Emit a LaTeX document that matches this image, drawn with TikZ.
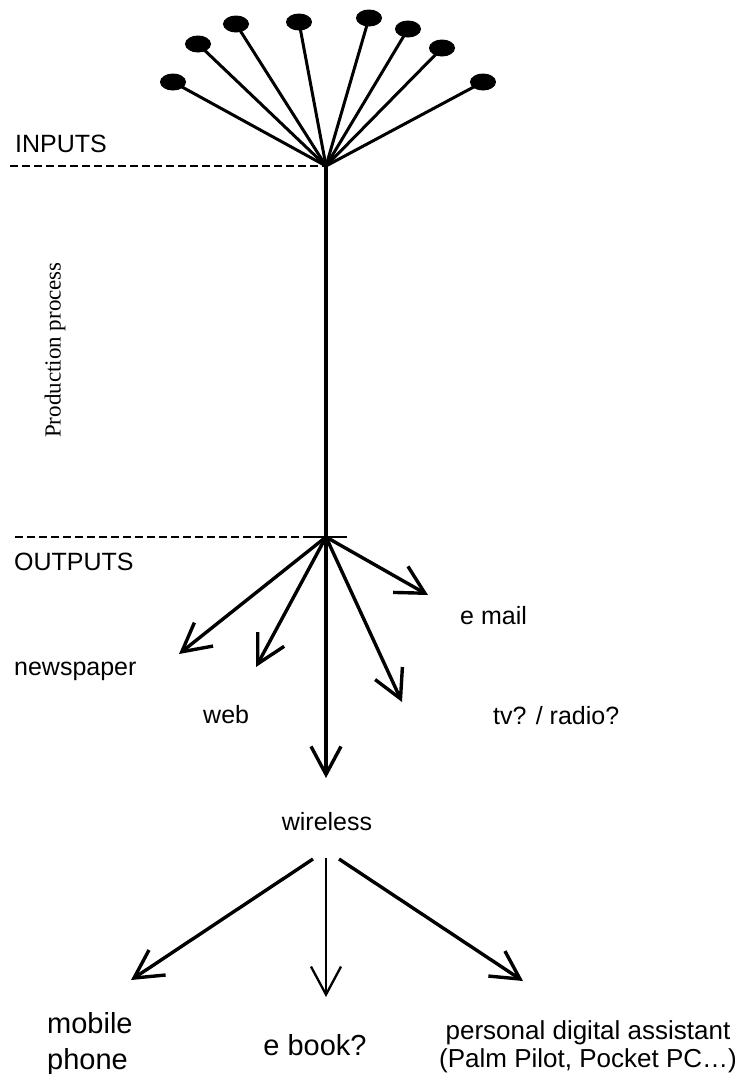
\documentclass[tikz,border=0pt]{standalone}
\usepackage{fontspec}
\setmainfont{Liberation Sans}
\newfontfamily\serifface{Liberation Serif}
\usetikzlibrary{arrows.meta,shapes.geometric}

\begin{document}
\begin{tikzpicture}[x=1pt,y=-1pt,
  dot/.style={ellipse, fill=black, minimum width=26pt, minimum height=17pt, inner sep=0pt},
  spoke/.style={line width=3pt},
  flow/.style={line width=3.4pt, -{Straight Barb[length=28pt,width=30pt]}},
  thinflow/.style={line width=2.3pt, -{Straight Barb[length=28pt,width=30pt]}},
  divider/.style={line width=2.3pt, dash pattern=on 8pt off 4pt},
  lab/.style={font=\fontsize{25}{30}\selectfont, inner sep=0pt},
  biglab/.style={font=\fontsize{29}{36}\selectfont, inner sep=0pt},
]
\useasboundingbox (0,0) rectangle (738,1074);

% input fan
\coordinate (hubin) at (326,166);
\node[dot] (d1) at (173,82) {};
\node[dot] (d2) at (198,44) {};
\node[dot] (d3) at (236,24) {};
\node[dot] (d4) at (299,22) {};
\node[dot] (d5) at (369,18) {};
\node[dot] (d6) at (408,29) {};
\node[dot] (d7) at (442,48) {};
\node[dot] (d8) at (483,82) {};
\foreach \d in {d1,d2,d3,d4,d5,d6,d7,d8}
  \draw[spoke] (\d.center) -- (hubin);

% dividers
\coordinate (inleft) at (10,166);
\draw[divider] (inleft) -- (hubin);
\coordinate (hubout) at (326,537);
\coordinate (outleft) at (15,537);
\coordinate (ticka) at (307,537);
\coordinate (tickb) at (347,537);
\draw[divider] (outleft) -- (ticka);
\draw[line width=2.8pt] (ticka) -- (tickb);

% production line
\coordinate (tipwireless) at (326,778);
\draw[flow] (hubin) -- (tipwireless);

% outputs
\coordinate (tipnews) at (179,654);
\coordinate (tipweb) at (256,667);
\coordinate (tiptv) at (402,702);
\coordinate (tipmail) at (428,595);
\draw[flow] (hubout) -- (tipnews);
\draw[flow] (hubout) -- (tipweb);
\draw[flow] (hubout) -- (tiptv);
\draw[flow] (hubout) -- (tipmail);

% wireless devices
\coordinate (wlleft) at (313,859);
\coordinate (wlmid) at (326,858);
\coordinate (wlright) at (339,859);
\coordinate (tipmobile) at (131,980);
\coordinate (tipebook) at (326,997);
\coordinate (tippda) at (523,981);
\draw[flow] (wlleft) -- (tipmobile);
\draw[thinflow] (wlmid) -- (tipebook);
\draw[flow] (wlright) -- (tippda);

% labels
\node[lab, anchor=base west] (inputs) at (15,152) {INPUTS};
\node[lab, anchor=base west] (outputs) at (14,570) {OUTPUTS};
\node[font=\serifface\fontsize{23}{28}\selectfont, inner sep=0pt, rotate=90] (prod) at (55,350) {Production process};
\node[lab, anchor=base west] (news) at (14,675) {newspaper};
\node[lab, anchor=base west] (web) at (203,723) {web};
\node[lab, anchor=base west] (email) at (460,624) {e mail};
\node[lab, anchor=base west] (tvradio) at (493,724) {tv? / radio?};
\node[lab, anchor=base] (wireless) at (327,830) {wireless};
\node[biglab, anchor=north west, align=left] (mobile) at (47,1012) {mobile\\phone};
\node[biglab, anchor=base] (ebook) at (315,1055) {e book?};
\node[inner sep=0pt, anchor=north, align=center, font=\fontsize{26}{28}\selectfont] (pda) at (588,1020) {personal digital assistant\\(Palm Pilot, Pocket PC…)};
\end{tikzpicture}
\end{document}
